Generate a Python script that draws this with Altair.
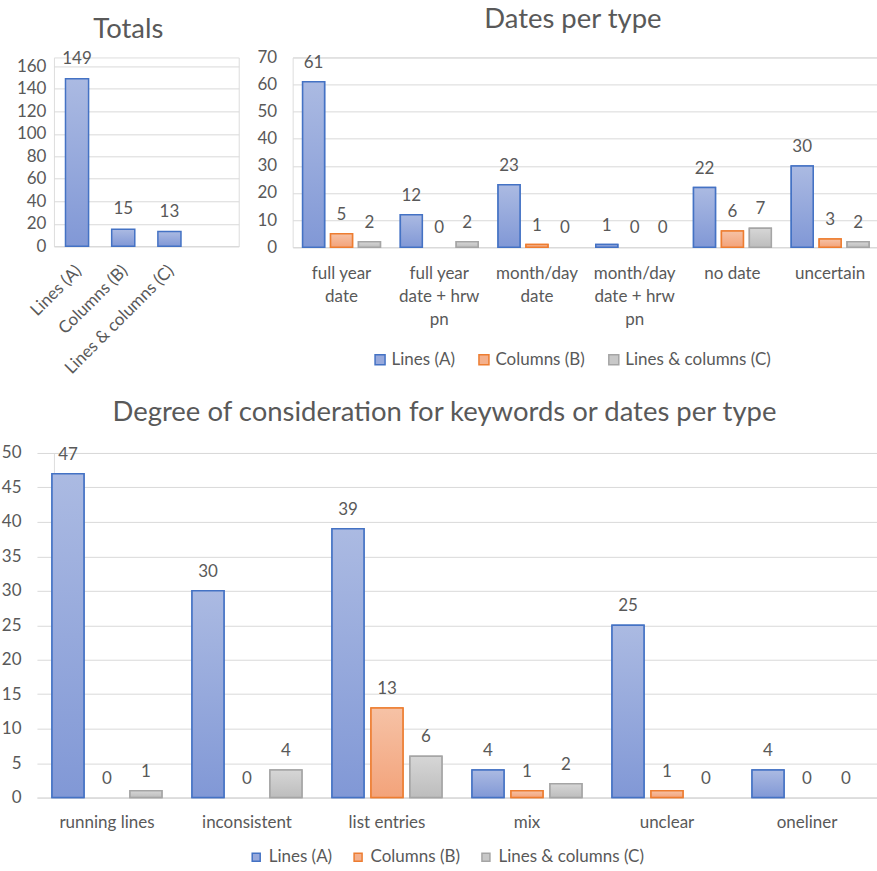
import altair as alt
import pandas as pd

# ---------------- data ----------------
series = ["Lines (A)", "Columns (B)", "Lines & columns (C)"]

totals_cats = ["Lines (A)", "Columns (B)", "Lines & columns (C)"]
totals_vals = [149, 15, 13]

date_cats = ["full year date", "full year date + hrw pn", "month/day date",
             "month/day date + hrw pn", "no date", "uncertain"]
date_lines = [["full year", "date"], ["full year", "date + hrw", "pn"], ["month/day", "date"],
              ["month/day", "date + hrw", "pn"], ["no date"], ["uncertain"]]
dates_A = [61, 12, 23, 1, 22, 30]
dates_B = [5, 0, 1, 0, 6, 3]
dates_C = [2, 2, 0, 0, 7, 2]

deg_cats = ["running lines", "inconsistent", "list entries", "mix", "unclear", "oneliner"]
deg_A = [47, 30, 39, 4, 25, 4]
deg_B = [0, 0, 13, 1, 1, 0]
deg_C = [1, 4, 6, 2, 0, 0]

# ---------------- styles ----------------
FONT = "Lato"
TXT = "#595959"
GRID = "#D9D9D9"
FS = 17
TFS = 27.5
flat = ["#97A9DC", "#F4B08C", "#C8C8C8"]
border = ["#4472C4", "#ED7D31", "#A5A5A5"]
grads = [
    ["#ABBAE2", "#8198D6"],
    ["#F6C2A6", "#F3A37A"],
    ["#D6D6D6", "#BDBDBD"],
]


def grad(c):
    return alt.LinearGradient(gradient="linear", x1=0, y1=0, x2=0, y2=1,
                              stops=[alt.GradientStop(offset=0, color=c[0]),
                                     alt.GradientStop(offset=1, color=c[1])])


def long_df(cats, a, b, c):
    rows = []
    for i, cat in enumerate(cats):
        for s, v in zip(series, [a[i], b[i], c[i]]):
            rows.append({"cat": cat, "series": s, "value": v})
    return pd.DataFrame(rows)


def label_expr(cats, lines):
    expr = "datum.label"
    for cat, ln in zip(reversed(cats), reversed(lines)):
        arr = "[" + ",".join("'" + s + "'" for s in ln) + "]"
        expr = f"datum.label == '{cat}' ? {arr} : ({expr})"
    return expr


def title(text, off, dx):
    return alt.TitleParams(text, font=FONT, fontSize=TFS, color=TXT, fontWeight="normal",
                           anchor="middle", frame="group", baseline="top",
                           offset=off, dx=dx)


def grouped(df, cats, lines, width, height, xrange, ymax, ystep, pad_in, off_pad,
            ttl, title_dx, title_off, yext, ypad, xpad,
            leg_x, leg_y, leg_col, sym_size, lab_off):
    base = alt.Chart(df).encode(
        x=alt.X("cat:N", sort=cats,
                scale=alt.Scale(domain=cats, range=xrange,
                                paddingInner=pad_in, paddingOuter=pad_in / 2),
                axis=alt.Axis(title=None, labelAngle=0, ticks=False, domain=True,
                              domainColor=GRID, domainWidth=1, grid=False,
                              labelFont=FONT, labelFontSize=FS, labelColor=TXT,
                              labelPadding=xpad, labelBaseline="top", labelLineHeight=23,
                              labelExpr=label_expr(cats, lines))),
        xOffset=alt.XOffset("series:N", sort=series,
                            scale=alt.Scale(domain=series, paddingInner=off_pad, paddingOuter=0)),
        y=alt.Y("value:Q",
                scale=alt.Scale(domain=[0, ymax], nice=False),
                axis=alt.Axis(title=None, values=list(range(0, ymax + 1, ystep)),
                              ticks=False, domain=False, grid=True, gridColor=GRID,
                              gridWidth=1, labelFont=FONT, labelFontSize=FS,
                              labelColor=TXT, labelPadding=ypad,
                              minExtent=yext, maxExtent=yext)),
    )
    leg = alt.Legend(title=None, orient="none", legendX=leg_x, legendY=leg_y,
                     direction="horizontal", symbolType="square", symbolSize=sym_size,
                     symbolStrokeWidth=1.5, labelFont=FONT, labelFontSize=FS,
                     labelColor=TXT, columnPadding=leg_col, labelOffset=lab_off, padding=0)
    legend_layer = base.mark_bar(strokeWidth=1.5).encode(
        fill=alt.Fill("series:N", sort=series, scale=alt.Scale(domain=series, range=flat), legend=leg),
        stroke=alt.Stroke("series:N", sort=series, scale=alt.Scale(domain=series, range=border), legend=leg),
    ).transform_filter("datum.value > 0")
    layers = [legend_layer]
    for s, g, b in zip(series, grads, border):
        layers.append(
            base.mark_bar(fill=grad(g), stroke=b, strokeWidth=1.5)
            .transform_filter(f"datum.series == '{s}' && datum.value > 0")
        )
    layers.append(
        base.mark_text(font=FONT, fontSize=FS, color=TXT, baseline="middle", dy=-19)
        .encode(text="value:Q")
    )
    return alt.layer(*layers).properties(
        width=width, height=height, title=title(ttl, title_off, title_dx))


# ---------------- chart 1: totals ----------------
tot_df = pd.DataFrame({"cat": totals_cats, "value": totals_vals})
tot_domain = totals_cats + [" "]
tot_base = alt.Chart(tot_df).encode(
    x=alt.X("cat:N", sort=tot_domain,
            scale=alt.Scale(domain=tot_domain, paddingInner=0.5, paddingOuter=0.25),
            axis=alt.Axis(title=None, labelAngle=-45, ticks=False, domain=True,
                          domainColor=GRID, grid=False, labelFont=FONT, labelFontSize=FS,
                          labelColor=TXT, labelPadding=16, labelOffset=-4)),
    y=alt.Y("value:Q", scale=alt.Scale(domain=[0, 168], nice=False),
            axis=alt.Axis(title=None, values=list(range(0, 161, 20)), ticks=False,
                          domain=False, grid=True, gridColor=GRID, labelFont=FONT,
                          labelFontSize=FS, labelColor=TXT, labelPadding=8,
                          minExtent=53, maxExtent=53)),
)
c1 = alt.layer(
    tot_base.mark_bar(fill=grad(grads[0]), stroke=border[0], strokeWidth=1.5),
    tot_base.mark_text(font=FONT, fontSize=FS, color=TXT, baseline="middle", dy=-20)
    .encode(text="value:Q"),
).properties(width=185, height=189, title=title("Totals", 6, -18))

# ---------------- chart 2: dates per type ----------------
c2 = grouped(long_df(date_cats, dates_A, dates_B, dates_C), date_cats, date_lines,
             587, 190, [0, 587], 70, 10, 0.204, 0.214, "Dates per type", -13, 15,
             32, 16, 18, 79, 294, 20, 100, 3)

# ---------------- chart 3: degree of consideration ----------------
# plot area starts under the top row's origin; band range reaches 17 px further left
c3 = grouped(long_df(deg_cats, deg_A, deg_B, deg_C), deg_cats, [[c] for c in deg_cats],
             824, 345, [-17, 824], 50, 5, 0.215, 0.18,
             "Degree of consideration for keywords or dates per type", -21, 18,
             53, 33, 17, 194, 396, 17, 64, 4)

top = alt.hconcat(c1, c2, spacing=16).resolve_scale(
    fill="independent", stroke="independent", xOffset="independent").resolve_legend(
    fill="independent", stroke="independent")

chart = alt.vconcat(top, c3, spacing=21).resolve_scale(
    fill="independent", stroke="independent", xOffset="independent").resolve_legend(
    fill="independent", stroke="independent").properties(
    padding={"left": 0, "top": 5, "right": -18, "bottom": 0}
).configure_view(stroke="transparent").configure(background="white")

chart.save("out.html", embed_options={"renderer": "svg", "actions": False})
